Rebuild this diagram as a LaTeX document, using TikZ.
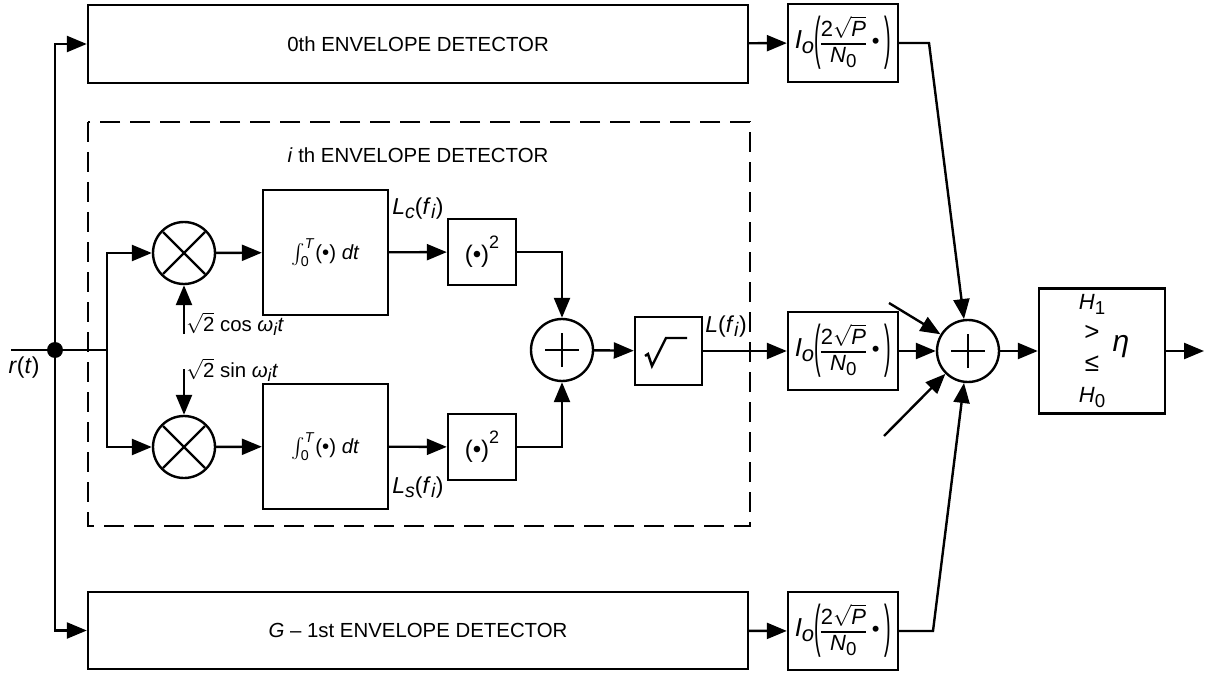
\documentclass[tikz,border=0pt]{standalone}
\usepackage{amsmath}
\usepackage{graphicx}
\usepackage{fontspec}
\setmainfont{Liberation Sans}
\usetikzlibrary{arrows.meta}

% large, lowered subscript in the style of the labels
\newcommand{\sbs}[1]{\raisebox{-0.4ex}{\scalebox{0.85}{#1}}}
% tall thin parenthesis
\newcommand{\tallp}[1]{\raisebox{-4.8pt}{\scalebox{0.9}[2.6]{#1}}}
% I_o( 2 sqrt(P) / N_0 . ) block label
\newcommand{\iofn}{{\fontsize{11}{11}\selectfont\arrayrulewidth=0.9pt
  {\fontsize{13}{13}\selectfont\textit{I}}\raisebox{-0.4ex}{\textit{o}}%
  \tallp{(}%
  \begin{tabular}{@{}c@{}}2$\sqrt{\text{\textit{P}}}$\\\hline\rule{0pt}{9pt}\textit{N}\sbs{0}\end{tabular}%
  \hspace{3pt}\textbullet\hspace{2.5pt}%
  \tallp{)}}}

\tikzset{
  wire/.style={line width=1.2pt},
  arr/.style={wire, -{Triangle[length=10pt,width=8pt]}},
  blk/.style={draw, line width=1.2pt, inner sep=0pt, align=center},
  mult/.style={circle, draw, line width=1.2pt, minimum size=31pt, inner sep=0pt,
    path picture={\draw[line width=1.2pt]
      ([shift={(-10.5pt,-10.5pt)}]path picture bounding box.center) -- ++(21pt,21pt)
      ([shift={(-10.5pt,10.5pt)}]path picture bounding box.center) -- ++(21pt,-21pt);}},
  summ/.style={circle, draw, line width=1.2pt, minimum size=31pt, inner sep=0pt,
    path picture={\draw[line width=1.2pt]
      ([shift={(-8.5pt,0pt)}]path picture bounding box.center) -- ++(17pt,0pt)
      ([shift={(0pt,-8.5pt)}]path picture bounding box.center) -- ++(0pt,17pt);}},
  lbl/.style={inner sep=0pt},
  sig/.style={inner sep=0pt, font=\fontsize{11.5}{12}\selectfont},
  fn/.style={blk, minimum width=55pt, minimum height=39pt},
}

\begin{document}
\begin{tikzpicture}[x=0.5pt, y=-0.5pt, font=\fontsize{10.2}{12}\selectfont]
\useasboundingbox (0,0) rectangle (1211,674);

% envelope detector branches
\node[blk, minimum width=330pt, minimum height=39pt] (det0) at (418,44) {0th ENVELOPE DETECTOR};
\node[blk, minimum width=330pt, minimum height=38.5pt] (detG) at (418,630.5) {\textit{G} -- 1st ENVELOPE DETECTOR};

% dashed frame of the i-th detector
\draw[line width=1.2pt, dash pattern=on 10pt off 5pt] (88,122) rectangle (750,526);
\node[lbl] (ilabel) at (418,155) {\textit{i} th ENVELOPE DETECTOR};

% Bessel nonlinearities
\node[fn] (io0) at (843,43) {\iofn};
\node[fn] (ioi) at (843,351) {\iofn};
\node[fn] (ioG) at (843,631) {\iofn};

% decision device
\node[blk, minimum width=63pt, minimum height=62.5pt] (dec) at (1102,351) {};
\node[lbl, align=center, font=\fontsize{11}{15.5}\selectfont] (dectxt) at (1092,351)
  {\textit{H}\sbs{1}\\{\fontsize{13}{13}\selectfont >}\\{\fontsize{13}{13}\selectfont ≤}\\\textit{H}\sbs{0}};
\node[lbl, font=\fontsize{15}{15}\selectfont] (eta) at (1121,347) {\textit{η}};

% quadrature correlators
\node[mult] (mulc) at (184,253) {};
\node[mult] (muls) at (184,447) {};
\node[blk, minimum width=62.5pt, minimum height=62.5pt] (intc) at (325.5,252.5)
  {$\int_{\text{0}}^{\text{\textit{T}}}$(\textbullet) \textit{dt}};
\node[blk, minimum width=62.5pt, minimum height=62.5pt] (ints) at (325.5,446.5)
  {$\int_{\text{0}}^{\text{\textit{T}}}$(\textbullet) \textit{dt}};
\node[blk, minimum width=34pt, minimum height=33pt, font=\fontsize{12}{12}\selectfont] (sqc) at (482,252)
  {(\textbullet)\raisebox{1.1ex}{\fontsize{9}{9}\selectfont 2}};
\node[blk, minimum width=34pt, minimum height=33pt, font=\fontsize{12}{12}\selectfont] (sqs) at (482,447)
  {(\textbullet)\raisebox{1.1ex}{\fontsize{9}{9}\selectfont 2}};
\node[summ] (sumi) at (562,350) {};
\node[blk, minimum width=33.5pt, minimum height=34pt] (root) at (668.5,351) {};
\draw[wire] (645,356) -- (648,354) -- (652,366) -- (666,338) -- (687,338);

% output combiner
\node[summ] (sumo) at (968,351) {};

% input
\node[circle, fill, inner sep=0pt, minimum size=8pt] (split) at (55,350) {};
\coordinate (rin) at (11,350);
\coordinate (brn) at (107,350);
\node[sig] (rlabel) at (24,368) {\textit{r}(\textit{t})};

\draw[wire] (rin) -- (split) -- (brn);
\draw[arr] (split) |- (det0.west);
\draw[arr] (split) |- (detG.west);
\draw[arr] (brn) |- (mulc.west);
\draw[arr] (brn) |- (muls.west);

% local oscillators
\coordinate (cosin) at (184,334);
\coordinate (sinin) at (184,369);
\draw[arr] (cosin) -- (mulc.south);
\draw[arr] (sinin) -- (muls.north);
\node[lbl, anchor=west] (coslbl) at (186,324) {$\sqrt{\text{2}}$ cos \textit{ω}\sbs{\textit{i}}\textit{t}};
\node[lbl, anchor=west] (sinlbl) at (186,370) {$\sqrt{\text{2}}$ sin \textit{ω}\sbs{\textit{i}}\textit{t}};

% correlator chain
\draw[arr] (mulc) -- (intc);
\draw[arr] (muls) -- (ints);
\draw[arr] (intc) -- (sqc);
\draw[arr] (ints) -- (sqs);
\draw[arr] (sqc.east) -| (sumi.north);
\draw[arr] (sqs.east) -| (sumi.south);
\draw[arr] (sumi) -- (root);
\draw[arr] (root) -- (ioi);
\node[sig, anchor=base west] (lclbl) at (392,214) {\textit{L}\sbs{\textit{c}}(\textit{f}\sbs{\textit{i}})};
\node[sig, anchor=base west] (lslbl) at (392,493) {\textit{L}\sbs{\textit{s}}(\textit{f}\sbs{\textit{i}})};
\node[sig, anchor=base west] (llbl) at (705,332) {\textit{L}(\textit{f}\sbs{\textit{i}})};

% into the combiner
\coordinate (k0) at (929,43);
\coordinate (kG) at (933,631);
\coordinate (d1) at (889,303);
\coordinate (d2) at (884,436);
\draw[arr] (det0) -- (io0);
\draw[arr] (detG) -- (ioG);
\draw[arr] (io0.east) -- (k0) -- (sumo);
\draw[arr] (ioG.east) -- (kG) -- (sumo);
\draw[arr] (ioi) -- (sumo);
\draw[arr] (d1) -- (sumo);
\draw[arr] (d2) -- (sumo);

% decision
\coordinate (out) at (1204,351);
\draw[arr] (sumo) -- (dec);
\draw[arr] (dec) -- (out);
\end{tikzpicture}
\end{document}
